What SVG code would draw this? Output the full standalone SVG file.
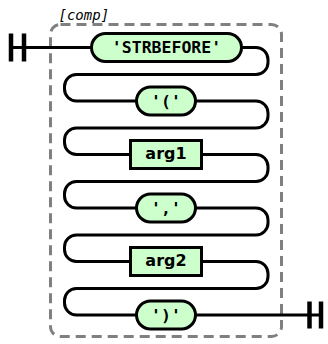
<svg xmlns="http://www.w3.org/2000/svg" width="328" height="344" viewBox="0 0 328 344">
<style>
.line{fill:none;stroke:#000;stroke-width:3}
.bar{stroke:#000;stroke-width:4.5}
.term{fill:#ccffcc;stroke:#000;stroke-width:3}
.nt{fill:#ccffcc;stroke:#000;stroke-width:3}
.tt{font-family:"DejaVu Sans Mono",monospace;font-weight:bold;font-size:16.5px;text-anchor:middle;fill:#000}
.nn{font-family:"DejaVu Sans",sans-serif;font-weight:bold;font-size:16px;text-anchor:middle;fill:#000}
.grp{fill:none;stroke:#808080;stroke-width:3;stroke-dasharray:10 6}
.lbl{font-family:"DejaVu Sans Mono",monospace;font-style:italic;font-size:14px;fill:#000}
</style>
<g id="group">
<rect class="grp" x="50.5" y="24.5" width="231" height="312" rx="10"/>
<text class="lbl" x="58.5" y="20">[comp]</text>
</g>
<g id="connectors">
<line class="bar" x1="11" y1="33.5" x2="11" y2="61.5"/>
<line class="bar" x1="24" y1="33.5" x2="24" y2="61.5"/>
<path class="line" d="M11 47.5H91.5"/>
<path class="line" d="M241.5 47.5H256A12 12 0 0 1 268 59.5V62.5A12 12 0 0 1 256 74.5H76.5A12 12 0 0 0 64.5 86.5V89A12 12 0 0 0 76.5 101H136.5"/>
<path class="line" d="M195.5 101H256A12 12 0 0 1 268 113V116A12 12 0 0 1 256 128H76.5A12 12 0 0 0 64.5 140V142.5A12 12 0 0 0 76.5 154.5H130.5"/>
<path class="line" d="M201.5 154.5H256A12 12 0 0 1 268 166.5V169.5A12 12 0 0 1 256 181.5H76.5A12 12 0 0 0 64.5 193.5V196A12 12 0 0 0 76.5 208H136.5"/>
<path class="line" d="M195.5 208H256A12 12 0 0 1 268 220V223A12 12 0 0 1 256 235H76.5A12 12 0 0 0 64.5 247V249.5A12 12 0 0 0 76.5 261.5H130.5"/>
<path class="line" d="M201.5 261.5H256A12 12 0 0 1 268 273.5V276.5A12 12 0 0 1 256 288.5H76.5A12 12 0 0 0 64.5 300.5V303A12 12 0 0 0 76.5 315H136.5"/>
<path class="line" d="M195.5 315H321"/>
<line class="bar" x1="309.5" y1="301.5" x2="309.5" y2="328.5"/>
<line class="bar" x1="321" y1="301.5" x2="321" y2="328.5"/>
</g>
<g id="n1"><rect class="term" x="91.5" y="33.5" width="150" height="28" rx="14"/><text class="tt" x="166.5" y="53">'STRBEFORE'</text></g>
<g id="n2"><rect class="term" x="136.5" y="87" width="59" height="28" rx="14"/><text class="tt" x="166" y="106.5">'('</text></g>
<g id="n3"><rect class="nt" x="130.5" y="140.5" width="71" height="28"/><text class="nn" x="166" y="158.5">arg1</text></g>
<g id="n4"><rect class="term" x="136.5" y="194" width="59" height="28" rx="14"/><text class="tt" x="166" y="213.5">','</text></g>
<g id="n5"><rect class="nt" x="130.5" y="247.5" width="71" height="28"/><text class="nn" x="166" y="265.5">arg2</text></g>
<g id="n6"><rect class="term" x="136.5" y="301" width="59" height="28" rx="14"/><text class="tt" x="166" y="320.5">')'</text></g>
</svg>
